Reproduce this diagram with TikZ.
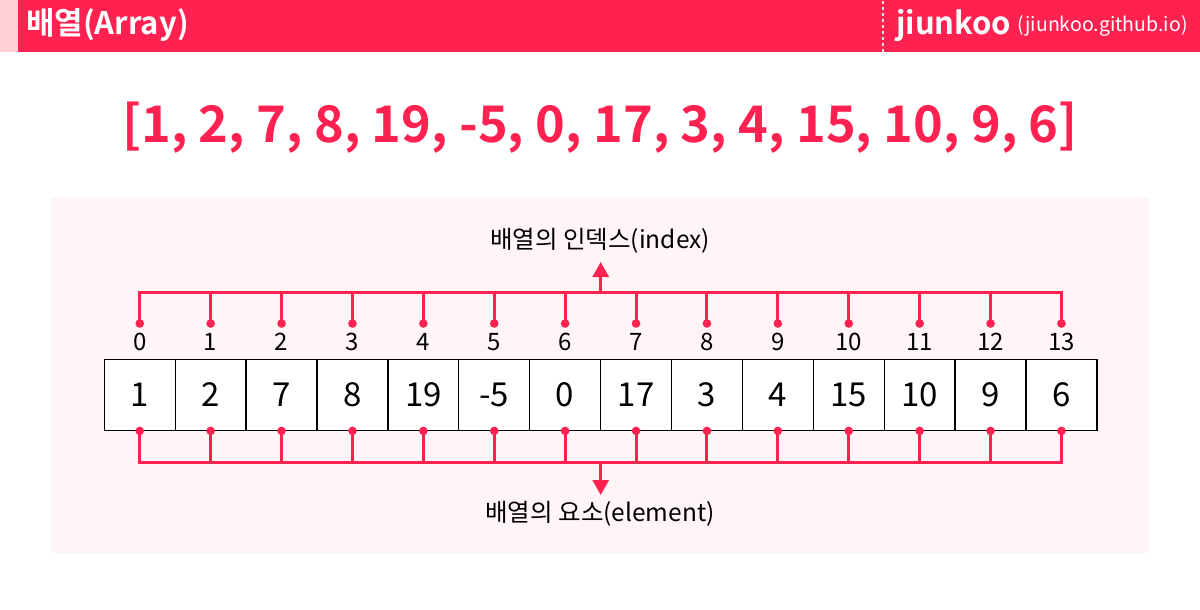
\documentclass[tikz,border=0pt]{standalone}
\usepackage{fontspec}
\setmainfont{Noto Sans CJK KR}[BoldFont={Noto Sans CJK KR Bold}]
\usetikzlibrary{arrows.meta}
\definecolor{hred}{RGB}{255,33,80}
\definecolor{strip}{RGB}{255,208,216}
\definecolor{panel}{RGB}{255,244,246}
\definecolor{dotc}{RGB}{200,228,228}
\begin{document}
\begin{tikzpicture}[x=1pt,y=-1pt,
  cell/.style={draw=black,line width=1.3pt,fill=white,minimum width=70.9pt,minimum height=70.5pt,inner sep=0pt,font=\fontsize{33}{33}\selectfont},
  idx/.style={inner sep=0pt,font=\fontsize{24}{24}\selectfont},
  bus/.style={draw=hred,line width=3pt},
  pin/.style={fill=hred},
  lab/.style={inner sep=0pt,font=\fontsize{24.5}{24.5}\selectfont},
  arr/.style={draw=hred,line width=3pt,-{Triangle[width=16pt,length=15pt]}}]
\useasboundingbox (0,0) rectangle (1200,610);
\fill[white] (0,0) rectangle (1200,610);
\fill[hred] (0,0) rectangle (1200,52);
\fill[strip] (0,0) rectangle (18,52);
\draw[dotc,line width=2.5pt,dash pattern=on 3pt off 3pt] (883,1) -- (883,52);
\node[anchor=west,inner sep=0pt,text=white,font=\fontsize{31}{31}\selectfont\bfseries] (title) at (26,25) {배열(Array)};
\node[anchor=west,inner sep=0pt,text=white,font=\fontsize{31}{31}\selectfont\bfseries] (brand) at (896,25) {jiunkoo};
\node[anchor=west,inner sep=0pt,text=white,font=\fontsize{19.5}{19.5}\selectfont] (url) at (1017,26) {(jiunkoo.github.io)};
\node[inner sep=0pt,text=hred,font=\fontsize{50.5}{50.5}\selectfont\bfseries] (arr) at (600,128) {[1, 2, 7, 8, 19, -5, 0, 17, 3, 4, 15, 10, 9, 6]};
\fill[panel] (51,198) rectangle (1149,553);
\foreach \v [count=\i from 0] in {1,2,7,8,19,-5,0,17,3,4,15,10,9,6}{
  \pgfmathsetmacro\cx{104.3+70.9*(\i+0.5)}
  \node[cell] (c\i) at (\cx,395) {\v};
  \node[idx] (i\i) at (\cx,342) {\i};
  \coordinate (t\i) at (\cx,323.5);
  \coordinate (tb\i) at (\cx,292.5);
  \coordinate (b\i) at (c\i.south);
  \coordinate (bb\i) at (\cx,462.5);
}
\coordinate (tm) at (600.7,292.5);
\coordinate (tt) at (600.7,262);
\coordinate (bm) at (600.7,462.5);
\coordinate (bt) at (600.7,495);
\node[lab] (toplab) at (600,241) {배열의 인덱스(index)};
\node[lab] (botlab) at (600,514) {배열의 요소(element)};
\draw[bus] (t0) -- (tb0) -- (tb13) -- (t13);
\draw[bus] (b0) -- (bb0) -- (bb13) -- (b13);
\foreach \i in {1,...,12}{
  \draw[bus] (t\i) -- (tb\i);
  \draw[bus] (b\i) -- (bb\i);
}
\foreach \i in {0,...,13}{
  \fill[pin] (t\i) circle (4.3pt);
  \fill[pin] (b\i) circle (4.3pt);
}
\draw[arr] (tm) -- (tt);
\draw[arr] (bm) -- (bt);
\end{tikzpicture}
\end{document}
